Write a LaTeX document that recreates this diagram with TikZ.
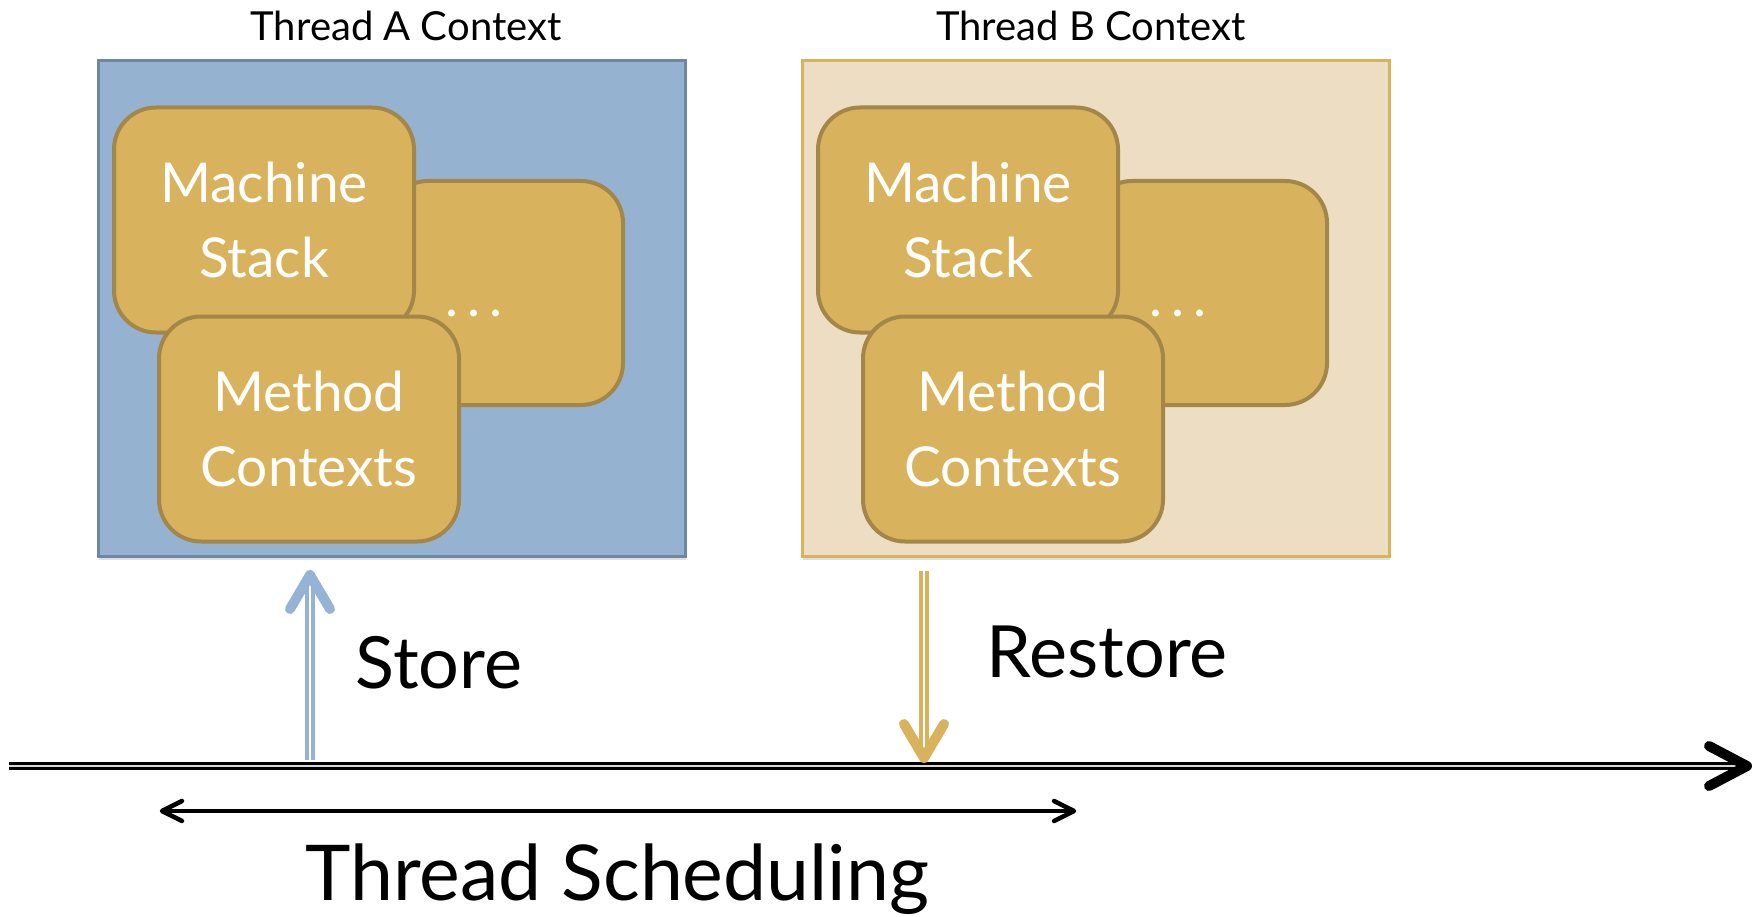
\documentclass[tikz,border=0pt]{standalone}
\usepackage{fontspec}
\setmainfont{Lato}
\usetikzlibrary{shadows,calc}

\definecolor{ctxblue}{HTML}{95B3D1}
\definecolor{ctxblueline}{HTML}{6C88A2}
\definecolor{ctxtan}{HTML}{EDDDC3}
\definecolor{ctxtanline}{HTML}{D8B25C}
\definecolor{partfill}{HTML}{D9B25D}
\definecolor{partline}{HTML}{A3864A}
\definecolor{storeblue}{HTML}{95B3D7}
\definecolor{restoregold}{HTML}{D9B25D}
\definecolor{railgap}{HTML}{D8D8D8}

\tikzset{
  ctxbox/.style={rectangle, draw, line width=3pt, minimum width=587pt,
    minimum height=495pt, inner sep=0pt,
    drop shadow={shadow xshift=1pt, shadow yshift=-4pt, opacity=0.25}},
  part/.style={rectangle, rounded corners=42pt, draw=partline, fill=partfill,
    line width=4pt, minimum width=300pt, minimum height=225pt, inner sep=0pt,
    text=white, align=center, font=\fontsize{55}{75}\selectfont},
  ctxtitle/.style={font=\fontsize{40}{46}\selectfont, anchor=base},
  biglabel/.style={font=\fontsize{72}{80}\selectfont, anchor=base west},
  railline/.style={draw=black, line width=3.2pt, double=railgap, double distance=2pt},
  chevron/.style={line width=#1, line join=round, line cap=round},
}

\begin{document}
\begin{tikzpicture}[x=1pt, y=-1pt]
\useasboundingbox (0,0) rectangle (1755,917);

% ---- Thread A context ----
\node[ctxbox, draw=ctxblueline, fill=ctxblue] (ctxA) at (391.5,308.5) {};
\node[ctxtitle] (titleA) at (406,41) {Thread A Context};
\node[part, minimum width=237pt, minimum height=224pt] (moreA) at (504.5,293) {};
\node[part] (msA) at (264,220) {Machine\\Stack};
\node[part] (mcA) at (309,429) {Method\\Contexts};
\node[font=\fontsize{55}{60}\selectfont, text=white] (dotsA) at (474,313) {.\,.\,.};

% ---- Thread B context ----
\node[ctxbox, draw=ctxtanline, fill=ctxtan] (ctxB) at (1095.5,308.5) {};
\node[ctxtitle] (titleB) at (1091,41) {Thread B Context};
\node[part, minimum width=237pt, minimum height=224pt] (moreB) at (1208.5,293) {};
\node[part] (msB) at (968,220) {Machine\\Stack};
\node[part] (mcB) at (1013,429) {Method\\Contexts};
\node[font=\fontsize{55}{60}\selectfont, text=white] (dotsB) at (1178,313) {.\,.\,.};

% ---- time line ----
\coordinate (railS) at (9,766);
\coordinate (railE) at (1742,766);
\coordinate (railTip) at (1747,766);
\draw[railline] (railS) -- (railE);
\draw[chevron=10pt] ($(railTip)+(-38,-20)$) -- (railTip) -- ($(railTip)+(-38,20)$);

% ---- store: context saved into Thread A ----
\coordinate (storeBase) at (310,760);
\coordinate (storeTip) at (310,575);
\draw[storeblue, line width=3.5pt, double=white, double distance=2.5pt]
  (storeBase) -- ($(storeTip)+(0,8)$);
\draw[storeblue, chevron=10pt] ($(storeTip)+(-20,34)$) -- (storeTip) -- ($(storeTip)+(20,34)$);
\node[biglabel] (storeLbl) at (352,688) {Store};

% ---- restore: context loaded from Thread B ----
\coordinate (restoreTop) at (924,571);
\coordinate (restoreTip) at (924,758);
\draw[restoregold, line width=3.5pt, double=white, double distance=2.5pt]
  (restoreTop) -- ($(restoreTip)+(0,-8)$);
\draw[restoregold, chevron=10pt] ($(restoreTip)+(-20,-34)$) -- (restoreTip) -- ($(restoreTip)+(20,-34)$);
\node[biglabel] (restoreLbl) at (983,677) {Restore};

% ---- scheduling span ----
\coordinate (schedL) at (162,811);
\coordinate (schedR) at (1074,811);
\draw[line width=4pt] (schedL) -- (schedR);
\draw[chevron=4.5pt] ($(schedL)+(20,-10)$) -- (schedL) -- ($(schedL)+(20,10)$);
\draw[chevron=4.5pt] ($(schedR)+(-20,-10)$) -- (schedR) -- ($(schedR)+(-20,10)$);
\node[biglabel, font=\fontsize{77}{86}\selectfont] (schedLbl) at (302,900) {Thread Scheduling};
\end{tikzpicture}
\end{document}
